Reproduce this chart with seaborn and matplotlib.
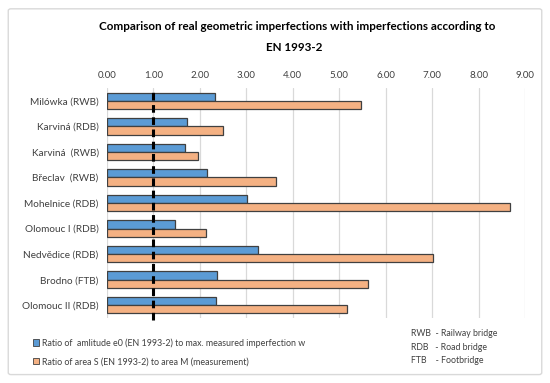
import matplotlib
matplotlib.use("Agg")
import matplotlib.pyplot as plt
import matplotlib.patches as mpatches
import numpy as np
import pandas as pd
import seaborn as sns

# data
bridges = ["Milówka (RWB)", "Karviná (RDB)", "Karviná  (RWB)", "Břeclav  (RWB)",
           "Mohelnice (RDB)", "Olomouc I (RDB)", "Nedvědice (RDB)", "Brodno (FTB)",
           "Olomouc II (RDB)"]
amplitude_ratio = [2.32, 1.73, 1.69, 2.16, 3.01, 1.46, 3.25, 2.37, 2.34]
area_ratio = [5.46, 2.50, 1.95, 3.64, 8.67, 2.13, 7.01, 5.61, 5.16]
series_names = ["Ratio of  amlitude e0 (EN 1993-2) to max. measured imperfection w",
                "Ratio of area S (EN 1993-2) to area M (measurement)"]
x_ticks = [0, 1, 2, 3, 4, 5, 6, 7, 8, 9]
abbrev_lines = ["RWB  - Railway bridge", "RDB   - Road bridge", "FTB    - Footbridge"]

colors = ["#5B9BD5", "#F4B183"]

df = pd.DataFrame({
    "bridge": bridges * 2,
    "value": amplitude_ratio + area_ratio,
    "series": [series_names[0]] * len(bridges) + [series_names[1]] * len(bridges),
})

sns.set_style("white")
plt.rcParams["font.family"] = ["Lato", "DejaVu Sans"]

fig = plt.figure(figsize=(5.5, 3.83), dpi=100)
ax = fig.add_axes([0.1945, 0.170, 0.76, 0.600])

sns.barplot(data=df, y="bridge", x="value", hue="series", orient="h",
            palette=colors, saturation=1, width=0.64, edgecolor="#404040",
            linewidth=0.9, legend=False, ax=ax)

ax.set_xlim(0, 9)
ax.set_xticks(x_ticks)
ax.set_xticklabels([f"{t:.2f}" for t in x_ticks], fontsize=7, color="#404040")
ax.xaxis.tick_top()
ax.tick_params(axis="both", length=0, pad=6)
ax.tick_params(axis="y", labelsize=7.2, colors="#404040", pad=6)
ax.set_xlabel("")
ax.set_ylabel("")
ax.grid(axis="x", color="#D9D9D9", linewidth=0.9)
ax.set_axisbelow(True)
for s in ax.spines.values():
    s.set_visible(False)

# reference line at ratio 1
ax.axvline(1, color="black", linewidth=2.2, linestyle=(0, (2.5, 1.5)),
           ymin=-0.01, ymax=1.0, clip_on=False, zorder=5)

fig.text(0.54, 0.930, "Comparison of real geometric imperfections with imperfections according to",
         ha="center", va="center", fontsize=8.4, fontweight="bold", color="black")
fig.text(0.535, 0.875, "EN 1993-2", ha="center", va="center", fontsize=8.4,
         fontweight="bold", color="black")

handles = [mpatches.Patch(facecolor=c, edgecolor="#404040", linewidth=0.6) for c in colors]
fig.legend(handles, series_names, loc="upper left", bbox_to_anchor=(0.045, 0.138),
           frameon=False, fontsize=6.4, handlelength=0.7, handleheight=0.7,
           handletextpad=0.3, labelspacing=1.1, labelcolor="#404040")

for i, line in enumerate(abbrev_lines):
    fig.text(0.748, 0.128 - i * 0.035, line, ha="left", va="center",
             fontsize=6.3, color="#404040")

# chart frame
fig.patches.append(mpatches.FancyBboxPatch(
    (0.015, 0.022), 0.97, 0.955, boxstyle="round,pad=0,rounding_size=0.005",
    transform=fig.transFigure, facecolor="none", edgecolor="#D9D9D9", linewidth=1.0))

fig.savefig("out.png", dpi=100)
